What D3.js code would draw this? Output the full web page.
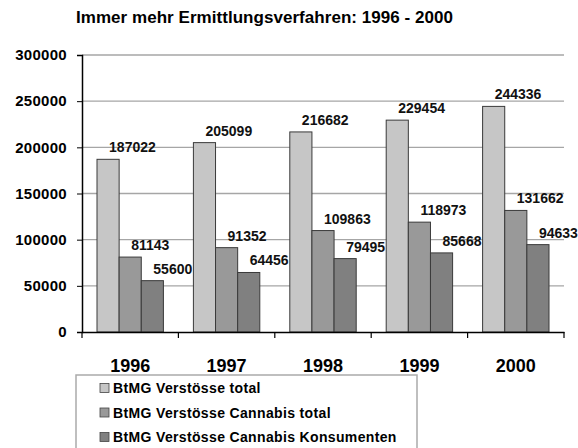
<!DOCTYPE html>
<html>
<head>
<meta charset="utf-8">
<script src="https://cdn.jsdelivr.net/npm/d3@7"></script>
<style>
  body { margin: 0; background: #fff; }
  svg { display: block; font-family: "Liberation Sans", Arial, sans-serif; }
</style>
</head>
<body>
<svg id="chart" width="578" height="448"></svg>
<script>
(function () {
    'use strict';

    /* Data */

    var years = ['1996', '1997', '1998', '1999', '2000'];
    var seriesNames = ['BtMG Verstösse total', 'BtMG Verstösse Cannabis total', 'BtMG Verstösse Cannabis Konsumenten'];
    var total = [187022, 205099, 216682, 229454, 244336];
    var cannabisTotal = [81143, 91352, 109863, 118973, 131662];
    var cannabisKons = [55600, 64456, 79495, 85668, 94633];
    var yTicks = [0, 50000, 100000, 150000, 200000, 250000, 300000];

    var values = [total, cannabisTotal, cannabisKons];
    var colors = ['#c6c6c6', '#999999', '#808080'];

    /* Setup SVG */

    var svg = d3.select('#chart');
    var left = 82, right = 564, top = 55, bottom = 332;

    var x = d3.scaleBand().domain(years).range([left, right]);
    var inner = d3.scaleBand().domain([0, 1, 2]).range([15, x.bandwidth() - 15]);
    var y = d3.scaleLinear().domain([0, 300000]).range([bottom, top]);

    /* Title */

    svg.append('text')
        .attr('x', 76).attr('y', 23)
        .attr('textLength', 377)
        .style('font-size', '17px').style('font-weight', 'bold')
        .text('Immer mehr Ermittlungsverfahren: 1996 - 2000');

    /* Grid */

    svg.append('g').selectAll('line')
        .data(yTicks.slice(1))
        .join('line')
        .attr('x1', left).attr('x2', right)
        .attr('y1', function (d) { return y(d); })
        .attr('y2', function (d) { return y(d); })
        .attr('stroke', '#a6a6a6').attr('stroke-width', 1.3);

    /* Bars */

    var groups = svg.append('g').selectAll('g')
        .data(years)
        .join('g')
        .attr('transform', function (d) { return 'translate(' + x(d) + ',0)'; });

    groups.selectAll('rect')
        .data(function (d, i) { return values.map(function (v, s) { return { s: s, v: v[i] }; }); })
        .join('rect')
        .attr('x', function (d) { return inner(d.s); })
        .attr('width', inner.bandwidth())
        .attr('y', function (d) { return y(d.v); })
        .attr('height', function (d) { return bottom - y(d.v); })
        .attr('fill', function (d) { return colors[d.s]; })
        .attr('stroke', '#3a3a3a').attr('stroke-width', 1);

    groups.selectAll('text')
        .data(function (d, i) { return values.map(function (v, s) { return { s: s, v: v[i] }; }); })
        .join('text')
        .attr('x', function (d) { return inner(d.s) + inner.bandwidth() / 2 + 1; })
        .attr('y', function (d) { return y(d.v) - 7; })
        .style('font-size', '14px').style('font-weight', 'bold').attr('fill', '#111')
        .text(function (d) { return d.v; });

    /* Axes */

    var yAxis = svg.append('g')
        .attr('transform', 'translate(' + left + ',0)')
        .call(d3.axisLeft(y).tickValues(yTicks).tickSize(5).tickPadding(10).tickFormat(d3.format('d')));
    yAxis.select('.domain').attr('stroke', '#000').attr('stroke-width', 1.5);
    yAxis.selectAll('.tick line').attr('stroke', '#000');
    yAxis.selectAll('text')
        .style('font-size', '15px').style('font-weight', 'bold').style('letter-spacing', '0.3px')
        .style('font-family', '"Liberation Sans", Arial, sans-serif').attr('fill', '#000');

    var xAxis = svg.append('g')
        .attr('transform', 'translate(0,' + bottom + ')')
        .call(d3.axisBottom(x).tickSize(0).tickPadding(27));
    xAxis.select('.domain').attr('stroke', '#000').attr('stroke-width', 1.5);
    xAxis.selectAll('text')
        .style('font-size', '18px').style('font-weight', 'bold')
        .style('font-family', '"Liberation Sans", Arial, sans-serif').attr('fill', '#000');

    svg.append('g').selectAll('line')
        .data(years)
        .join('line')
        .attr('x1', function (d) { return x(d) + x.bandwidth(); })
        .attr('x2', function (d) { return x(d) + x.bandwidth(); })
        .attr('y1', bottom).attr('y2', bottom + 6)
        .attr('stroke', '#000').attr('stroke-width', 1.2);
    svg.append('line')
        .attr('x1', left).attr('x2', left).attr('y1', bottom).attr('y2', bottom + 6)
        .attr('stroke', '#000').attr('stroke-width', 1.2);

    /* Legend */

    var legend = svg.append('g');
    legend.append('rect')
        .attr('x', 76).attr('y', 375).attr('width', 341).attr('height', 80)
        .attr('fill', '#fff').attr('stroke', '#aaa').attr('stroke-width', 1.5);

    var items = legend.selectAll('g.item')
        .data(seriesNames)
        .join('g').attr('class', 'item')
        .attr('transform', function (d, i) { return 'translate(100,' + (388 + i * 24.5) + ')'; });
    items.append('rect')
        .attr('x', 0).attr('y', -4.5).attr('width', 9).attr('height', 9)
        .attr('fill', function (d, i) { return colors[i]; })
        .attr('stroke', '#444').attr('stroke-width', 0.8);
    items.append('text')
        .attr('x', 13).attr('y', 5)
        .style('font-size', '14px').style('font-weight', 'bold').style('letter-spacing', '0.35px')
        .text(function (d) { return d; });

})();
</script>
</body>
</html>
